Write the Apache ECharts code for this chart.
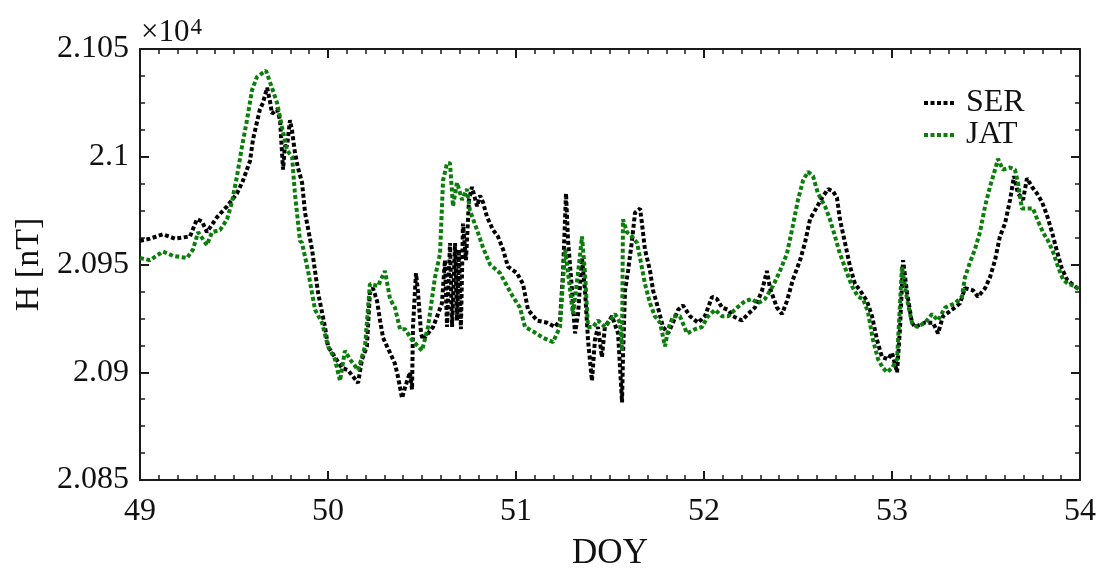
<!DOCTYPE html>
<html>
<head>
<meta charset="utf-8">
<script src="https://cdn.jsdelivr.net/npm/echarts@6/dist/echarts.min.js"></script>
<style>
  html, body { margin: 0; padding: 0; background: #fff; }
  #chart { width: 1099px; height: 572px; }
</style>
</head>
<body>
<div id="chart"></div>
<script>
// day of year and horizontal field H [nT]
var serDoy = [49.000, 49.053, 49.122, 49.186, 49.266, 49.303, 49.330, 49.356, 49.410, 49.463,
  49.516, 49.548, 49.585, 49.601, 49.622, 49.638, 49.654, 49.676, 49.691, 49.702,
  49.729, 49.745, 49.761, 49.771, 49.782, 49.798, 49.809, 49.824, 49.840, 49.862,
  49.878, 49.915, 49.947, 49.984, 50.000, 50.037, 50.074, 50.106, 50.160, 50.181,
  50.207, 50.223, 50.239, 50.261, 50.277, 50.293, 50.314, 50.330, 50.356, 50.372,
  50.394, 50.410, 50.436, 50.447, 50.452, 50.468, 50.479, 50.495, 50.505, 50.532,
  50.559, 50.585, 50.606, 50.622, 50.633, 50.649, 50.660, 50.676, 50.686, 50.697,
  50.707, 50.718, 50.734, 50.750, 50.766, 50.793, 50.809, 50.824, 50.846, 50.878,
  50.904, 50.931, 50.957, 51.005, 51.037, 51.064, 51.112, 51.165, 51.207, 51.234,
  51.250, 51.266, 51.277, 51.298, 51.314, 51.330, 51.351, 51.367, 51.383, 51.404,
  51.420, 51.436, 51.457, 51.473, 51.511, 51.543, 51.564, 51.569, 51.580, 51.596,
  51.617, 51.633, 51.660, 51.670, 51.686, 51.713, 51.729, 51.755, 51.782, 51.809,
  51.835, 51.862, 51.888, 51.926, 51.968, 52.005, 52.043, 52.069, 52.096, 52.128,
  52.154, 52.202, 52.234, 52.271, 52.309, 52.335, 52.351, 52.388, 52.415, 52.441,
  52.473, 52.511, 52.537, 52.564, 52.590, 52.628, 52.660, 52.686, 52.707, 52.723,
  52.750, 52.777, 52.803, 52.830, 52.867, 52.894, 52.920, 52.947, 52.979, 53.000,
  53.027, 53.043, 53.059, 53.080, 53.106, 53.122, 53.176, 53.218, 53.245, 53.271,
  53.319, 53.362, 53.388, 53.431, 53.457, 53.495, 53.521, 53.548, 53.574, 53.601,
  53.628, 53.649, 53.670, 53.697, 53.718, 53.745, 53.771, 53.798, 53.824, 53.851,
  53.878, 53.904, 53.931, 53.957, 54.000];
var serH = [20961, 20962, 20964, 20962, 20963, 20971, 20970, 20965, 20972, 20977,
  20983, 20989, 20998, 21008, 21016, 21022, 21025, 21032, 21026, 21020,
  21022, 21017, 20994, 21005, 21005, 21017, 21012, 21002, 20995, 20988,
  20974, 20957, 20937, 20921, 20912, 20907, 20902, 20901, 20895, 20906,
  20912, 20937, 20939, 20933, 20924, 20916, 20912, 20909, 20904, 20898,
  20888, 20893, 20900, 20892, 20921, 20946, 20937, 20918, 20915, 20918,
  20921, 20927, 20932, 20952, 20921, 20960, 20921, 20960, 20924, 20957,
  20920, 20969, 20952, 20980, 20986, 20977, 20982, 20979, 20972, 20966,
  20963, 20957, 20949, 20946, 20941, 20929, 20924, 20923, 20921, 20924,
  20946, 20983, 20961, 20938, 20918, 20927, 20953, 20938, 20915, 20896,
  20915, 20921, 20907, 20921, 20926, 20918, 20886, 20907, 20938, 20947,
  20961, 20974, 20976, 20969, 20957, 20947, 20938, 20930, 20921, 20918,
  20923, 20929, 20931, 20926, 20923, 20926, 20935, 20934, 20930, 20929,
  20926, 20924, 20927, 20930, 20938, 20947, 20939, 20930, 20927, 20933,
  20943, 20952, 20960, 20971, 20975, 20981, 20985, 20984, 20981, 20971,
  20960, 20949, 20941, 20938, 20933, 20926, 20915, 20907, 20906, 20909,
  20900, 20921, 20952, 20937, 20923, 20921, 20923, 20923, 20918, 20926,
  20929, 20932, 20939, 20938, 20935, 20939, 20944, 20952, 20963, 20969,
  20980, 20991, 20983, 20980, 20990, 20986, 20983, 20979, 20973, 20965,
  20956, 20948, 20943, 20941, 20938];

var jatDoy = [49.000, 49.053, 49.122, 49.176, 49.250, 49.282, 49.309, 49.356, 49.383, 49.426,
  49.463, 49.489, 49.516, 49.543, 49.569, 49.596, 49.622, 49.654, 49.670, 49.702,
  49.729, 49.755, 49.782, 49.809, 49.824, 49.851, 49.862, 49.894, 49.931, 49.968,
  50.000, 50.037, 50.064, 50.090, 50.117, 50.160, 50.197, 50.223, 50.266, 50.303,
  50.330, 50.356, 50.383, 50.410, 50.447, 50.500, 50.532, 50.569, 50.596, 50.612,
  50.633, 50.649, 50.665, 50.686, 50.713, 50.739, 50.755, 50.793, 50.824, 50.862,
  50.915, 50.952, 50.984, 51.021, 51.048, 51.090, 51.144, 51.197, 51.234, 51.261,
  51.277, 51.303, 51.330, 51.351, 51.367, 51.383, 51.410, 51.436, 51.473, 51.500,
  51.527, 51.553, 51.564, 51.569, 51.590, 51.617, 51.644, 51.660, 51.686, 51.713,
  51.739, 51.766, 51.793, 51.809, 51.835, 51.872, 51.910, 51.952, 51.989, 52.021,
  52.059, 52.096, 52.128, 52.176, 52.218, 52.255, 52.287, 52.324, 52.367, 52.404,
  52.441, 52.468, 52.500, 52.527, 52.553, 52.580, 52.606, 52.644, 52.670, 52.697,
  52.723, 52.761, 52.787, 52.819, 52.846, 52.872, 52.899, 52.926, 52.952, 52.973,
  53.000, 53.027, 53.053, 53.080, 53.106, 53.133, 53.176, 53.213, 53.245, 53.282,
  53.335, 53.372, 53.388, 53.415, 53.441, 53.468, 53.495, 53.521, 53.548, 53.564,
  53.590, 53.628, 53.654, 53.670, 53.691, 53.723, 53.750, 53.777, 53.803, 53.830,
  53.856, 53.883, 53.910, 53.936, 53.973, 54.000];
var jatH = [20953, 20952, 20956, 20954, 20953, 20957, 20965, 20959, 20965, 20966,
  20971, 20979, 20991, 21005, 21017, 21031, 21037, 21039, 21040, 21032,
  21025, 21014, 21003, 21000, 20983, 20961, 20960, 20947, 20929, 20923,
  20912, 20906, 20896, 20910, 20906, 20901, 20912, 20941, 20940, 20947,
  20934, 20930, 20920, 20920, 20915, 20910, 20921, 20944, 20955, 20989,
  20997, 20997, 20977, 20988, 20980, 20985, 20975, 20966, 20958, 20950,
  20946, 20940, 20935, 20930, 20921, 20919, 20916, 20914, 20921, 20957,
  20946, 20927, 20946, 20963, 20946, 20921, 20921, 20924, 20921, 20924,
  20927, 20923, 20910, 20971, 20965, 20963, 20960, 20953, 20941, 20932,
  20926, 20923, 20912, 20920, 20926, 20926, 20918, 20920, 20921, 20926,
  20929, 20926, 20926, 20930, 20933, 20934, 20932, 20934, 20940, 20947,
  20955, 20966, 20980, 20989, 20993, 20991, 20983, 20977, 20971, 20963,
  20955, 20946, 20940, 20935, 20934, 20928, 20915, 20906, 20902, 20900,
  20902, 20906, 20949, 20934, 20923, 20921, 20923, 20927, 20924, 20930,
  20932, 20935, 20944, 20951, 20957, 20965, 20977, 20986, 20994, 20999,
  20994, 20995, 20994, 20988, 20976, 20976, 20976, 20970, 20965, 20961,
  20956, 20949, 20943, 20941, 20940, 20938];

var seriesNames = ['SER', 'JAT'];
var seriesColors = ['#000000', '#0a7d0a'];

function pairs(xs, ys) {
  var out = [];
  for (var i = 0; i < xs.length; i++) {
    out.push([xs[i], ys[i]]);
  }
  return out;
}

var chart = echarts.init(document.getElementById('chart'));

var serif = 'Liberation Serif';
var axisColor = '#1a1a1a';

function boxAxis(pos, isX) {
  var ax = {
    type: 'value',
    position: pos,
    min: isX ? 49 : 20850,
    max: isX ? 54 : 21050,
    interval: isX ? 1 : 50,
    axisLine: { show: true, onZero: false, lineStyle: { color: axisColor, width: 2 } },
    axisTick: { show: true, inside: true, length: 9, lineStyle: { color: axisColor, width: 2 } },
    minorTick: { show: true, splitNumber: isX ? 10 : 4, length: 5, lineStyle: { color: axisColor, width: 1.5 } },
    splitLine: { show: false },
    axisLabel: { show: false }
  };
  return ax;
}

var xBottom = boxAxis('bottom', true);
xBottom.axisLabel = {
  show: true, margin: 16, color: '#111', fontFamily: serif, fontSize: 32,
  formatter: function (v) { return String(v); }
};
xBottom.name = 'DOY';
xBottom.nameLocation = 'middle';
xBottom.nameGap = 56;
xBottom.nameTextStyle = { color: '#111', fontFamily: serif, fontSize: 35 };

var yLeft = boxAxis('left', false);
yLeft.axisLabel = {
  show: true, margin: 11, color: '#111', fontFamily: serif, fontSize: 32,
  formatter: function (v) { return String(+(v / 1e4).toFixed(4)); }
};
yLeft.name = 'H [nT]';
yLeft.nameLocation = 'middle';
yLeft.nameGap = 94;
yLeft.nameTextStyle = { color: '#111', fontFamily: serif, fontSize: 34 };

var option = {
  animation: false,
  backgroundColor: '#ffffff',
  grid: { left: 140, right: 19, top: 49, bottom: 92, containLabel: false, outerBoundsMode: 'none' },
  xAxis: [xBottom, boxAxis('top', true)],
  yAxis: [yLeft, boxAxis('right', false)],
  legend: {
    orient: 'vertical',
    left: 917,
    top: 82,
    itemWidth: 30,
    itemHeight: 14,
    itemGap: 0,
    itemStyle: { opacity: 0 },
    lineStyle: { width: 4, type: [4, 2.5] },
    textStyle: { color: '#111', fontFamily: serif, fontSize: 32, padding: [0, 0, 0, 7] },
    data: seriesNames
  },
  graphic: [{
    type: 'text',
    left: 141,
    top: 16,
    style: {
      text: '{a|×10}{b|4}',
      rich: {
        a: { fontFamily: serif, fontSize: 31, fill: '#111' },
        b: { fontFamily: serif, fontSize: 23, fill: '#111', verticalAlign: 'top', padding: [0, 0, 10, 1] }
      }
    }
  }],
  series: [
    {
      name: seriesNames[0], type: 'line', data: pairs(serDoy, serH),
      showSymbol: false, symbol: 'none', color: seriesColors[0],
      lineStyle: { color: seriesColors[0], width: 4, type: [4, 2.5] }
    },
    {
      name: seriesNames[1], type: 'line', data: pairs(jatDoy, jatH),
      showSymbol: false, symbol: 'none', color: seriesColors[1],
      lineStyle: { color: seriesColors[1], width: 4, type: [4, 2.5] }
    }
  ]
};

chart.setOption(option);
</script>
</body>
</html>
